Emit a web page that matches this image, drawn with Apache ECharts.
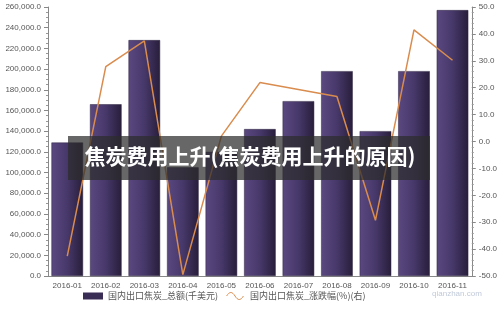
<!DOCTYPE html>
<html><head><meta charset="utf-8">
<script src="https://cdn.jsdelivr.net/npm/echarts@6/dist/echarts.min.js"></script>
<style>html,body{margin:0;padding:0;background:#fff}#c{width:500px;height:311px}</style>
</head><body><div id="c"></div>
<script>
const categories = ['2016-01','2016-02','2016-03','2016-04','2016-05','2016-06','2016-07','2016-08','2016-09','2016-10','2016-11'];
const totalValues = [129000,166000,228000,105000,120000,142000,169000,198000,140000,198000,257000];
const changeValues = [-42.6,27.8,37.4,-49.5,2.0,21.9,19.3,16.7,-29.3,41.5,30.2];
const seriesNames = ['国内出口焦炭_总额(千美元)','国内出口焦炭_涨跌幅(%)(右)'];
const bannerText = '焦炭费用上升(焦炭费用上升的原因)';

const chart = echarts.init(document.getElementById('c'));
const axisColor = '#555';
const fmt1 = v => {
  const s = Math.abs(v).toFixed(1).split('.');
  s[0] = s[0].replace(/\B(?=(\d{3})+(?!\d))/g, ',');
  return (v < 0 ? '-' : '') + s.join('.');
};
chart.setOption({
  animation: false,
  textStyle: {fontFamily: 'Liberation Sans, Noto Sans CJK SC, sans-serif'},
  grid: {left: 48, right: 27, top: 7, bottom: 35},
  legend: {
    bottom: 4, left: 78, itemWidth: 20, itemHeight: 7, itemGap: 6,
    textStyle: {fontSize: 9, color: '#555', fontFamily: 'Noto Sans CJK SC, sans-serif'},
    data: [
      {name: seriesNames[0], icon: 'rect', itemStyle: {color: '#3a2d55', borderWidth: 0}},
      {name: seriesNames[1], icon: 'path://M0,5 C3,0 6,0 9,5 C12,10 15,10 18,5',
       itemStyle: {color: 'none', borderColor: '#d98c4e', borderWidth: 1}, lineStyle: {opacity: 0}}
    ]
  },
  xAxis: {
    type: 'category', data: categories, boundaryGap: true,
    axisLine: {lineStyle: {color: '#888'}},
    axisTick: {alignWithLabel: true, length: 3, lineStyle: {color: '#888'}},
    axisLabel: {fontSize: 8, color: axisColor, margin: 6}
  },
  yAxis: [
    {
      type: 'value', min: 0, max: 260000, interval: 20000,
      axisLine: {show: true, lineStyle: {color: '#888'}},
      axisTick: {show: true, length: 4, inside: false, lineStyle: {color: '#888'}},
      minorTick: {show: true, splitNumber: 4, length: 2, lineStyle: {color: '#999'}},
      splitLine: {show: false},
      axisLabel: {fontSize: 8, color: axisColor, margin: 7, formatter: fmt1}
    },
    {
      type: 'value', min: -50, max: 50, interval: 10,
      axisLine: {show: true, lineStyle: {color: '#888'}},
      axisTick: {show: true, length: 4, lineStyle: {color: '#888'}},
      minorTick: {show: true, splitNumber: 5, length: 2, lineStyle: {color: '#999'}},
      splitLine: {show: false},
      axisLabel: {fontSize: 8, color: axisColor, margin: 7, formatter: v => v.toFixed(1)}
    }
  ],
  series: [
    {
      name: seriesNames[0], type: 'bar', yAxisIndex: 0, data: totalValues, barWidth: '82%',
      itemStyle: {
        color: new echarts.graphic.LinearGradient(0, 0, 1, 0, [
          {offset: 0, color: '#5a4880'},
          {offset: 0.5, color: '#47386a'},
          {offset: 1, color: '#281e3a'}
        ]),
        borderColor: '#2e2440', borderWidth: 0.5
      }
    },
    {
      name: seriesNames[1], type: 'line', yAxisIndex: 1, data: changeValues,
      symbol: 'none', lineStyle: {color: '#d98c4e', width: 1.5},
      itemStyle: {color: '#d98c4e'}
    }
  ],
  graphic: [
    {type: 'rect', left: 68, top: 136, shape: {width: 362, height: 44}, style: {fill: 'rgba(45,45,45,0.72)'}, z: 100},
    {type: 'text', left: 'center', top: 146, style: {text: bannerText, fill: '#fff', font: 'bold 21px "Noto Sans CJK SC", sans-serif'}, z: 101},
    {type: 'text', left: 432, top: 290, style: {text: 'qianzhan.com', fill: 'rgba(150,165,190,0.6)', font: '8px "Liberation Sans", sans-serif'}, z: 50}
  ]
});
</script></body></html>
